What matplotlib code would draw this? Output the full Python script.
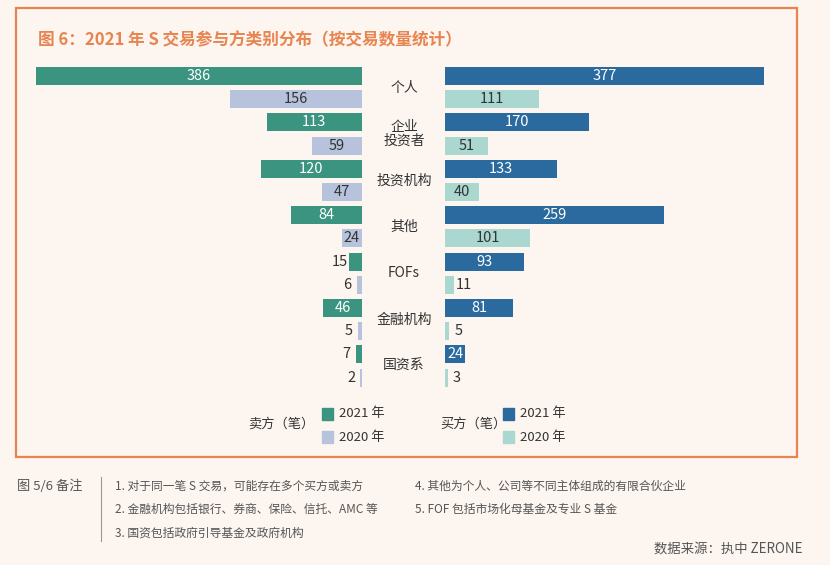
import matplotlib.pyplot as plt
from matplotlib.patches import Rectangle

plt.rcParams['font.family'] = ['Noto Sans CJK SC', 'DejaVu Sans']

categories = ['个人', '企业\n投资者', '投资机构', '其他', 'FOFs', '金融机构', '国资系']
sell_2021 = [386, 113, 120, 84, 15, 46, 7]
sell_2020 = [156, 59, 47, 24, 6, 5, 2]
buy_2021 = [377, 170, 133, 259, 93, 81, 24]
buy_2020 = [111, 51, 40, 101, 11, 5, 3]

c_sell21 = '#3a9480'
c_sell20 = '#b7c3dc'
c_buy21 = '#2b6a9e'
c_buy20 = '#aad8d1'
bg = '#fcf5f0'
orange = '#e8844f'
dark = '#333333'

W, H = 830, 565
fig = plt.figure(figsize=(8.3, 5.65), dpi=100, facecolor=bg)


def box(x0, x1, y0, y1):
    # pixel box (top-based) -> figure fraction rect
    return [x0 / W, 1 - y1 / H, (x1 - x0) / W, (y1 - y0) / H]


# outer frame
fig.patches.append(Rectangle((16 / W, 1 - 457 / H), 781 / W, 449 / H, transform=fig.transFigure,
                             fill=False, edgecolor=orange, linewidth=1.6))
fig.text(38 / W, 1 - 40 / H, '图 6：2021 年 S 交易参与方类别分布（按交易数量统计）',
         color=orange, fontsize=12, fontweight='bold', va='center', ha='left')

scale = 0.845  # px per unit
y_top, y_bot = 76 - 23.2 * 0.5, 76 + 23.2 * 13.5
axL = fig.add_axes(box(20, 362, y_top, y_bot))
axR = fig.add_axes(box(445, 790, y_top, y_bot))
axL.set_xlim(342 / scale, 0)
axR.set_xlim(0, 345 / scale)
for ax in (axL, axR):
    ax.set_ylim(13.5, -0.5)
    ax.axis('off')
    ax.patch.set_alpha(0)

pos21 = [2 * i for i in range(len(categories))]
pos20 = [2 * i + 1 for i in range(len(categories))]
bh = 0.78
axL.barh(pos21, sell_2021, height=bh, color=c_sell21)
axL.barh(pos20, sell_2020, height=bh, color=c_sell20)
axR.barh(pos21, buy_2021, height=bh, color=c_buy21)
axR.barh(pos20, buy_2020, height=bh, color=c_buy20)


def labels(ax, pos, vals, inside_color):
    for p, v in zip(pos, vals):
        if v >= 20:
            ax.text(v / 2, p, str(v), ha='center', va='center', fontsize=10.5, color=inside_color)
        else:
            ax.text(v + 11, p, str(v), ha='center', va='center', fontsize=10.5, color=dark)


labels(axL, pos21, sell_2021, 'white')
labels(axL, pos20, sell_2020, dark)
labels(axR, pos21, buy_2021, 'white')
labels(axR, pos20, buy_2020, dark)

for i, c in enumerate(categories):
    yc = 76 + 23.2 * (2 * i + 0.5)
    fig.text(404 / W, 1 - yc / H, c, ha='center', va='center', fontsize=10, color=dark, linespacing=1.0)

# legend
for x_lab, x_sq, col21, col20, name in [(248, 322, c_sell21, c_sell20, '卖方（笔）'),
                                        (440, 503, c_buy21, c_buy20, '买方（笔）')]:
    fig.text(x_lab / W, 1 - 424 / H, name, ha='left', va='center', fontsize=9.5, color=dark)
    for yy, col, yr in [(414, col21, '2021 年'), (437, col20, '2020 年')]:
        fig.patches.append(Rectangle((x_sq / W, 1 - (yy + 6) / H), 11 / W, 12 / H,
                                     transform=fig.transFigure, color=col))
        fig.text((x_sq + 17) / W, 1 - yy / H, yr, ha='left', va='center', fontsize=9.5, color=dark)

# notes
gray = '#555555'
fig.text(17 / W, 1 - 486 / H, '图 5/6 备注', fontsize=9.5, color=gray, va='center')
fig.add_artist(plt.Line2D([101 / W, 101 / W], [1 - 477 / H, 1 - 541 / H], color='#999999', lw=0.8))
notes_col1 = ['1. 对于同一笔 S 交易，可能存在多个买方或卖方', '2. 金融机构包括银行、券商、保险、信托、AMC 等',
              '3. 国资包括政府引导基金及政府机构']
notes_col2 = ['4. 其他为个人、公司等不同主体组成的有限合伙企业', '5. FOF 包括市场化母基金及专业 S 基金']
for k, t in enumerate(notes_col1):
    fig.text(115 / W, 1 - (486 + 23.5 * k) / H, t, fontsize=8.5, color=gray, va='center')
for k, t in enumerate(notes_col2):
    fig.text(415 / W, 1 - (486 + 23.5 * k) / H, t, fontsize=8.5, color=gray, va='center')
fig.text(802 / W, 1 - 549 / H, '数据来源：执中 ZERONE', fontsize=9.6, color=gray, va='center', ha='right')

fig.savefig('out.png', dpi=100, facecolor=bg)
